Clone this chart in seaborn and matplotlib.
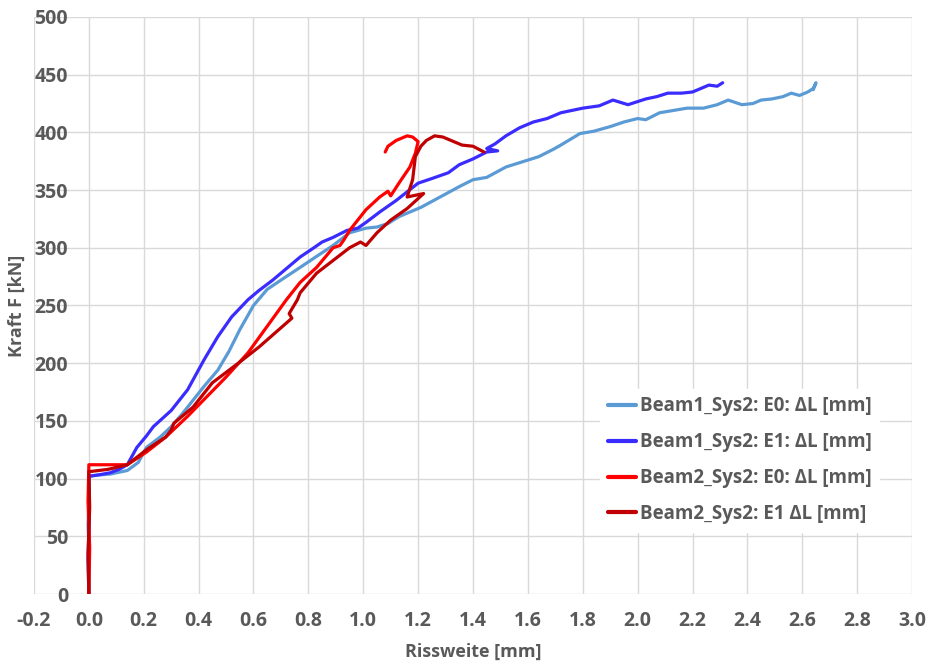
import pandas as pd
import numpy as np
import seaborn as sns
import matplotlib.pyplot as plt

# Beam1_Sys2: E0
b1e0_x = [0, 0.002, -0.003, 0.002, 0.0, 0.03, 0.08, 0.14, 0.18, 0.21, 0.26, 0.30, 0.34, 0.38, 0.42,
          0.47, 0.51, 0.55, 0.60, 0.65, 0.70, 0.77, 0.82, 0.89, 0.95, 1.01, 1.05, 1.09, 1.13, 1.21,
          1.28, 1.35, 1.40, 1.45, 1.52, 1.60, 1.64, 1.69, 1.72, 1.79, 1.84, 1.90, 1.95, 2.00, 2.03,
          2.08, 2.13, 2.18, 2.24, 2.29, 2.33, 2.38, 2.42, 2.45, 2.49, 2.53, 2.56, 2.59, 2.62, 2.64,
          2.65, 2.64]
b1e0_y = [0, 30, 60, 90, 102, 103, 104, 107, 114, 127, 136, 145, 156, 168, 180,
          194, 210, 229, 250, 264, 272, 283, 291, 302, 313, 317, 318, 321, 327, 335,
          344, 353, 359, 361, 370, 376, 379, 385, 389, 399, 401, 405, 409, 412, 411,
          417, 419, 421, 421, 424, 428, 424, 425, 428, 429, 431, 434, 432, 435, 438,
          443, 437]

# Beam1_Sys2: E1
b1e1_x = [0, -0.003, 0.002, 0.0, 0.03, 0.077, 0.11, 0.14, 0.175, 0.21, 0.235, 0.30, 0.36, 0.42,
          0.47, 0.52, 0.58, 0.62, 0.67, 0.72, 0.77, 0.82, 0.85, 0.89, 0.94, 0.98, 1.01, 1.06,
          1.12, 1.20, 1.25, 1.31, 1.35, 1.40, 1.45, 1.49, 1.45, 1.48, 1.52, 1.57, 1.62, 1.67,
          1.72, 1.80, 1.86, 1.91, 1.965, 2.03, 2.07, 2.11, 2.16, 2.20, 2.26, 2.29, 2.31]
b1e1_y = [0, 30, 70, 102, 103, 105, 108, 112, 127, 137, 145, 159, 177, 203,
          223, 240, 255, 263, 272, 282, 292, 300, 305, 309, 315, 317, 322, 331,
          341, 356, 360, 365, 372, 377, 383, 384, 386, 390, 397, 404, 409, 412,
          417, 421, 423, 428, 424, 429, 431, 434, 434, 435, 441, 440, 443]

# Beam2_Sys2: E0
b2e0_x = [0, 0.003, -0.003, 0.0, 0.07, 0.14, 0.21, 0.28, 0.36, 0.43, 0.50, 0.58, 0.65, 0.72,
          0.77, 0.83, 0.89, 0.915, 0.93, 0.95, 1.01, 1.06, 1.09, 1.10, 1.13, 1.17, 1.19, 1.20,
          1.18, 1.16, 1.12, 1.09, 1.08]
b2e0_y = [0, 40, 80, 112, 112, 112, 123, 136, 154, 171, 188, 209, 232, 255,
          270, 283, 300, 302, 307, 315, 333, 344, 349, 345, 356, 370, 382, 392,
          396, 397, 393, 388, 383]

# Beam2_Sys2: E1
b2e1_x = [0, -0.003, 0.003, 0.0, 0.07, 0.14, 0.21, 0.28, 0.30, 0.31, 0.38, 0.45, 0.55, 0.62,
          0.74, 0.73, 0.76, 0.77, 0.83, 0.89, 0.95, 0.99, 1.01, 1.05, 1.10, 1.16, 1.22, 1.16,
          1.18, 1.19, 1.21, 1.23, 1.26, 1.29, 1.33, 1.36, 1.40, 1.44]
b2e1_y = [0, 35, 75, 106, 108, 112, 125, 136, 142, 148, 162, 183, 201, 214,
          239, 243, 255, 261, 278, 289, 300, 305, 302, 313, 324, 334, 347, 344,
          359, 379, 388, 393, 397, 396, 392, 389, 388, 383]

labels = ["Beam1_Sys2: E0: ΔL [mm]", "Beam1_Sys2: E1: ΔL [mm]",
          "Beam2_Sys2: E0: ΔL [mm]", "Beam2_Sys2: E1 ΔL [mm]"]
colors = ["#5B9BD5", "#3A2BFF", "#FF0000", "#C00000"]

frames = []
for lab, xs, ys in zip(labels, [b1e0_x, b1e1_x, b2e0_x, b2e1_x], [b1e0_y, b1e1_y, b2e0_y, b2e1_y]):
    frames.append(pd.DataFrame({"x": xs, "y": ys, "serie": lab}))
df = pd.concat(frames, ignore_index=True)

sns.set_style("white")
plt.rcParams['font.family'] = ['Open Sans', 'DejaVu Sans']
grey = "#595959"

fig = plt.figure(figsize=(9.31, 6.66), dpi=100)
ax = fig.add_axes([0.0365, 0.1081, 0.9431, 0.8664])

sns.lineplot(data=df, x="x", y="y", hue="serie", hue_order=labels, palette=colors,
             sort=False, estimator=None, units="serie", linewidth=2.3, ax=ax)

ax.set_xlim(-0.2, 3.0)
ax.set_ylim(0, 500)
xt = np.arange(-0.2, 3.01, 0.2)
ax.set_xticks(xt)
ax.set_xticklabels([f"{v:.1f}" for v in xt])
ax.set_yticks(np.arange(0, 501, 50))
ax.grid(True, color="#D9D9D9", linewidth=1)
ax.set_axisbelow(True)
for s in ax.spines.values():
    s.set_visible(False)
# y-Achse kreuzt bei x = 0, Beschriftung links davon
ax.spines['left'].set_position(('data', 0))
ax.tick_params(length=0, labelsize=14, colors=grey)
ax.tick_params(axis='y', pad=15)
ax.tick_params(axis='x', pad=12)
for t in ax.get_xticklabels() + ax.get_yticklabels():
    t.set_fontweight("bold")

ax.set_xlabel("Rissweite [mm]", fontsize=13, fontweight="bold", color=grey)
ax.set_ylabel("Kraft F [kN]", fontsize=13, fontweight="bold", color=grey)
ax.xaxis.set_label_coords(0.5, -0.085)
ax.yaxis.set_label_coords(-0.009, 0.5)

leg = ax.legend(loc="center left", bbox_to_anchor=(0.645, 0.232), frameon=True,
                fontsize=13.5, handlelength=1.5, handletextpad=0.2, labelspacing=0.85,
                borderpad=0.4, borderaxespad=0)
leg.get_frame().set_facecolor("white")
leg.get_frame().set_edgecolor("white")
leg.get_frame().set_alpha(1)
for t in leg.get_texts():
    t.set_fontweight("bold")
    t.set_color(grey)
for l in leg.get_lines():
    l.set_linewidth(3)

fig.savefig("out.png", dpi=100)
